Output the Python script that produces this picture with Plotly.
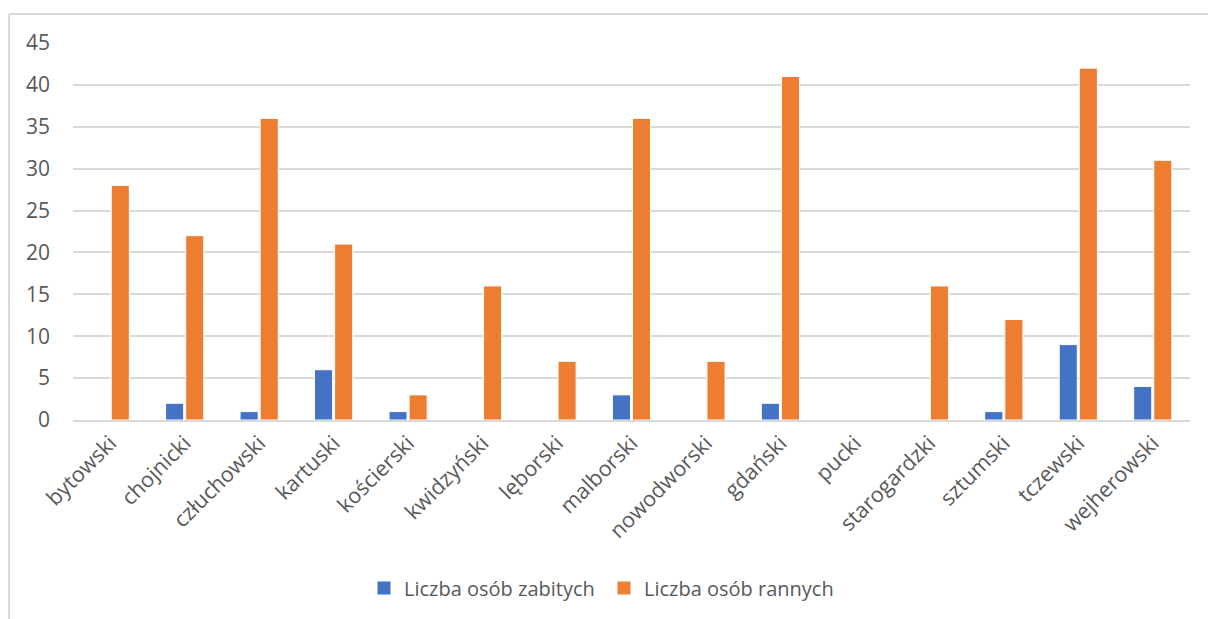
import plotly.graph_objects as go

# Powiaty (districts) and casualty counts
powiaty = ["bytowski", "chojnicki", "człuchowski", "kartuski", "kościerski",
           "kwidzyński", "lęborski", "malborski", "nowodworski", "gdański",
           "pucki", "starogardzki", "sztumski", "tczewski", "wejherowski"]
zabici = [0, 2, 1, 6, 1, 0, 0, 3, 0, 2, 0, 0, 1, 9, 4]
ranni = [28, 22, 36, 21, 3, 16, 7, 36, 7, 41, 0, 16, 12, 42, 31]

y_ticks = [0, 5, 10, 15, 20, 25, 30, 35, 40, 45]

FONT = "'Open Sans', sans-serif"
TXT = "#595959"
GRID = "#d9d9d9"
BLUE = "#4472c4"
ORANGE = "#ed7d31"

fig = go.Figure()
fig.add_trace(go.Bar(x=powiaty, y=zabici, name="Liczba osób zabitych", showlegend=False,
                     marker=dict(color=BLUE, line=dict(color="white", width=1))))
fig.add_trace(go.Bar(x=powiaty, y=ranni, name="Liczba osób rannych", showlegend=False,
                     marker=dict(color=ORANGE, line=dict(color="white", width=1))))

# legend entries with larger square swatches
for name, col in [("Liczba osób zabitych", BLUE), ("Liczba osób rannych", ORANGE)]:
    fig.add_trace(go.Scatter(x=[None], y=[None], mode="markers", name=name,
                             marker=dict(symbol="square", size=13, color=col)))

W, H = 1208, 619
L, R, T, B = 73, 18, 43, 199
pw, ph = W - L - R, H - T - B

def px(x):
    return (x - L) / pw

def py(y):
    return (H - B - y) / ph

fig.update_layout(
    width=W, height=H,
    margin=dict(l=L, r=R, t=T, b=B),
    paper_bgcolor="white", plot_bgcolor="white",
    barmode="group", bargap=0.46, bargroupgap=0.1,
    font=dict(family=FONT, color=TXT, size=18),
    xaxis=dict(tickangle=-45, showgrid=False, showline=True, linecolor=GRID,
               linewidth=2, ticks="", tickfont=dict(size=21.5, color=TXT)),
    yaxis=dict(range=[0, 45], tickvals=y_ticks, showgrid=True, gridcolor=GRID,
               gridwidth=2, zeroline=False, showline=False, ticks="",
               tickfont=dict(size=21, color=TXT), ticklabelstandoff=22),
    legend=dict(orientation="h", x=px(364), y=py(588), xanchor="left",
                yanchor="middle", font=dict(size=20, color=TXT),
                itemwidth=30, entrywidthmode="pixels", entrywidth=195),
    showlegend=True,
    shapes=[
        dict(type="line", xref="paper", yref="paper", x0=px(9), x1=px(1215),
             y0=py(14), y1=py(14), line=dict(color=GRID, width=2)),
        dict(type="line", xref="paper", yref="paper", x0=px(9), x1=px(9),
             y0=py(14), y1=py(625), line=dict(color=GRID, width=2)),
    ],
)

fig.write_html("out.html")
